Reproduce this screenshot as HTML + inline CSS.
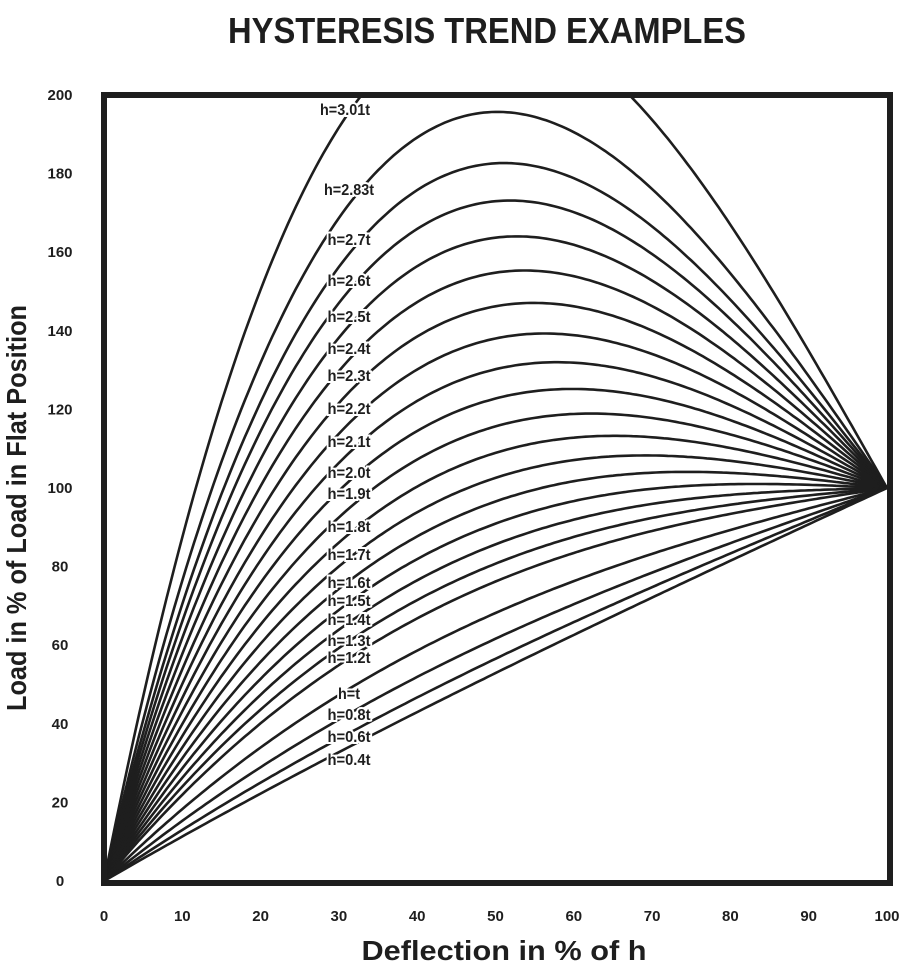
<!DOCTYPE html>
<html><head><meta charset="utf-8"><style>
html,body{margin:0;padding:0;background:#fff;}
svg{display:block;}
text{font-family:"Liberation Sans",sans-serif;font-weight:bold;fill:#1e1e1e;}
</style></head><body>
<svg id="s" width="916" height="971" viewBox="0 0 916 971" xmlns="http://www.w3.org/2000/svg">
<defs><clipPath id="c"><rect x="104" y="95" width="786" height="788"/></clipPath></defs>
<text x="487" y="43" font-size="36" text-anchor="middle" textLength="518" lengthAdjust="spacingAndGlyphs">HYSTERESIS  TREND  EXAMPLES</text>
<g id="curves" clip-path="url(#c)" fill="none" stroke="#1e1e1e" stroke-width="2.6"></g>
<rect x="104" y="95" width="786" height="788" fill="none" stroke="#1e1e1e" stroke-width="6"/>
<g id="labels" font-size="16" text-anchor="middle" stroke="#fff" stroke-width="4" paint-order="stroke"></g>
<g id="ticks" font-size="15" text-anchor="middle"></g>
<text x="504" y="960" font-size="28" text-anchor="middle" textLength="285" lengthAdjust="spacingAndGlyphs">Deflection  in % of h</text>
<text transform="translate(26,508) rotate(-90)" font-size="28" text-anchor="middle" textLength="406" lengthAdjust="spacingAndGlyphs">Load in % of Load in Flat Position</text>
</svg>
<script>
var ns="http://www.w3.org/2000/svg";
function X(f){return 104+f*783;}
function Y(L){return 881-L*3.93;}
var rs=[3.01,2.83,2.7,2.6,2.5,2.4,2.3,2.2,2.1,2.0,1.9,1.8,1.7,1.6,1.5,1.4,1.3,1.2,1.0,0.8,0.6,0.4];
var g=document.getElementById('curves');
rs.forEach(function(r0){
 var r=r0>2.85?r0:r0*0.985;
 var d="";
 for(var i=0;i<=200;i++){var f=i/200;var L=100*f*(r*r*(1-f)*(1-f/2)+1);
  d+=(i?"L":"M")+X(f).toFixed(1)+" "+Y(L).toFixed(1);}
 var p=document.createElementNS(ns,'path');p.setAttribute('d',d);g.appendChild(p);
});
var labs=[["h=3.01t",115],["h=2.83t",195],["h=2.7t",245],["h=2.6t",286],["h=2.5t",322],["h=2.4t",354],["h=2.3t",381],["h=2.2t",414],["h=2.1t",447],["h=2.0t",478],["h=1.9t",499],["h=1.8t",532],["h=1.7t",560],["h=1.6t",588],["h=1.5t",606],["h=1.4t",625],["h=1.3t",646],["h=1.2t",663],["h=t",699],["h=0.8t",720],["h=0.6t",742],["h=0.4t",765]];
var lg=document.getElementById('labels');
labs.forEach(function(a){var t=document.createElementNS(ns,'text');t.setAttribute('x',a[0]=="h=3.01t"?345:349);t.setAttribute('y',a[1]);
 t.setAttribute('textLength',(a[0].length*7.2).toFixed(0));t.setAttribute('lengthAdjust','spacingAndGlyphs');t.textContent=a[0];lg.appendChild(t);});
var tg=document.getElementById('ticks');
for(var i=0;i<=10;i++){var t=document.createElementNS(ns,'text');t.setAttribute('x',X(i/10));t.setAttribute('y',921);t.textContent=i*10;tg.appendChild(t);}
for(var i=0;i<=10;i++){var t=document.createElementNS(ns,'text');t.setAttribute('x',60);t.setAttribute('y',Y(i*20)+5);t.textContent=i*20;tg.appendChild(t);}
</script>
</body></html>
